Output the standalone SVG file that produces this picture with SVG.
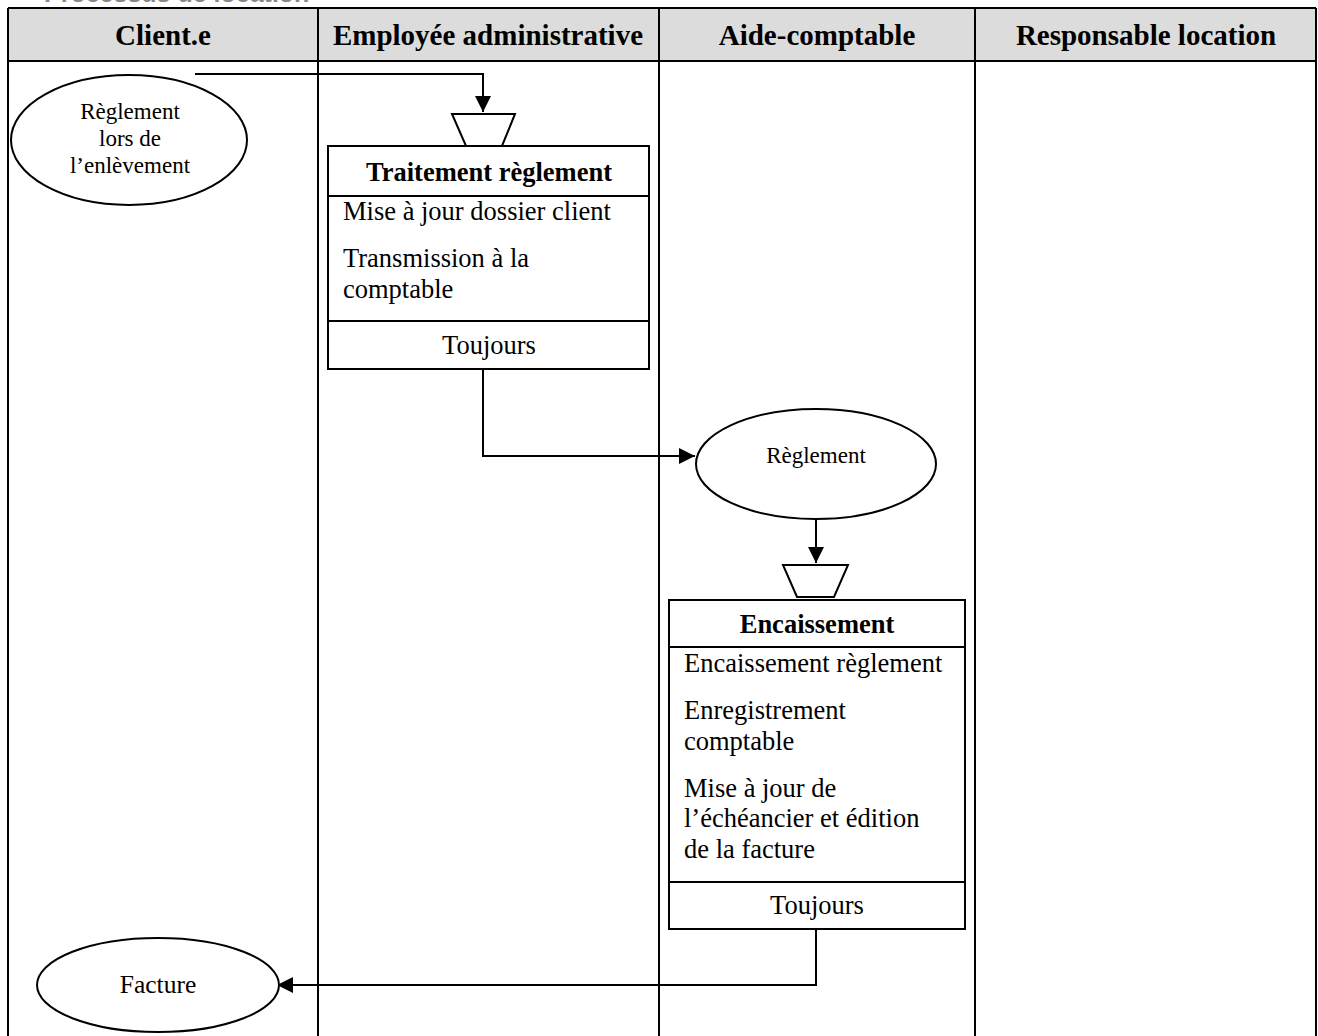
<svg xmlns="http://www.w3.org/2000/svg" width="1318" height="1036" viewBox="0 0 1318 1036">
<defs>
<style>
.hdr{font-family:"Liberation Serif","Times New Roman",serif;font-weight:bold;font-size:29px;text-anchor:middle;fill:#000}
.ttl{font-family:"Liberation Serif","Times New Roman",serif;font-weight:bold;font-size:26.5px;text-anchor:middle;fill:#000}
.body{font-family:"Liberation Serif","Times New Roman",serif;font-size:26.5px;fill:#000}
.mid{text-anchor:middle}
.ell{font-family:"Liberation Serif","Times New Roman",serif;font-size:23px;text-anchor:middle;fill:#000}
.big{font-size:25.5px}
.shape{fill:#fff;stroke:#000;stroke-width:2}
.lane{stroke:#000;stroke-width:2;fill:none}
.conn{stroke:#000;stroke-width:2;fill:none}
</style>
<marker id="arrb" viewBox="0 0 10 10" refX="10" refY="5" markerWidth="16" markerHeight="16" markerUnits="userSpaceOnUse" orient="auto">
<path d="M0,0 L10,5 L0,10 z" fill="#000"/>
</marker>
</defs>
<rect width="1318" height="1036" fill="#fff"/>
<text x="44" y="1.5" font-family="Liberation Sans, Arial, sans-serif" font-weight="bold" font-size="25" fill="#888">Processus de location</text>

<g id="lanes">
<rect x="8" y="8" width="1308" height="53" fill="#dcdcdc"/>
<path class="lane" d="M8,8 H1316 M8,61 H1316 M8,8 V1036 M318,8 V1036 M659,8 V1036 M975,8 V1036 M1316,8 V1036" stroke-width="2.5"/>
<text class="hdr" x="163" y="45">Client.e</text>
<text class="hdr" x="488" y="45">Employée administrative</text>
<text class="hdr" x="817" y="45">Aide-comptable</text>
<text class="hdr" x="1146" y="45">Responsable location</text>
</g>

<g id="connectors">
<path class="conn" d="M195,74 H483 V112" stroke-width="3" marker-end="url(#arrb)"/>
<path class="conn" d="M483,369 V456 H695" marker-end="url(#arrb)"/>
<path class="conn" d="M816,519 V563" marker-end="url(#arrb)"/>
<path class="conn" d="M816,929 V985 H277" marker-end="url(#arrb)"/>
</g>

<g id="reglement-enlevement">
<ellipse class="shape" cx="129" cy="140" rx="118" ry="65" stroke-width="1.5"/>
<text class="ell" x="130" y="119">Règlement</text>
<text class="ell" x="130" y="146">lors de</text>
<text class="ell" x="130" y="173">l’enlèvement</text>
</g>

<g id="sync1">
<path class="shape" d="M452,114 H515 L502,146 H466 Z" stroke-width="1.5"/>
</g>

<g id="traitement-reglement">
<rect class="shape" x="328" y="146" width="321" height="223"/>
<path class="lane" d="M328,196 H649 M328,321 H649"/>
<text class="ttl" x="489" y="181">Traitement règlement</text>
<text class="body" x="343" y="220">Mise à jour dossier client</text>
<text class="body" x="343" y="267">Transmission à la</text>
<text class="body" x="343" y="298">comptable</text>
<text class="body mid" x="489" y="354">Toujours</text>
</g>

<g id="reglement">
<ellipse class="shape" cx="816" cy="464" rx="120" ry="55" stroke-width="1.5"/>
<text class="ell" x="816" y="463">Règlement</text>
</g>

<g id="sync2">
<path class="shape" d="M783,565 H848 L834,597 H797 Z" stroke-width="1.5"/>
</g>

<g id="encaissement">
<rect class="shape" x="669" y="600" width="296" height="329"/>
<path class="lane" d="M669,647 H965 M669,882 H965"/>
<text class="ttl" x="817" y="633">Encaissement</text>
<text class="body" x="684" y="672">Encaissement règlement</text>
<text class="body" x="684" y="719">Enregistrement</text>
<text class="body" x="684" y="750">comptable</text>
<text class="body" x="684" y="797">Mise à jour de</text>
<text class="body" x="684" y="827">l’échéancier et édition</text>
<text class="body" x="684" y="858">de la facture</text>
<text class="body mid" x="817" y="914">Toujours</text>
</g>

<g id="facture">
<ellipse class="shape" cx="158" cy="985" rx="121" ry="47" stroke-width="1.5"/>
<text class="ell big" x="158" y="993">Facture</text>
</g>
</svg>
